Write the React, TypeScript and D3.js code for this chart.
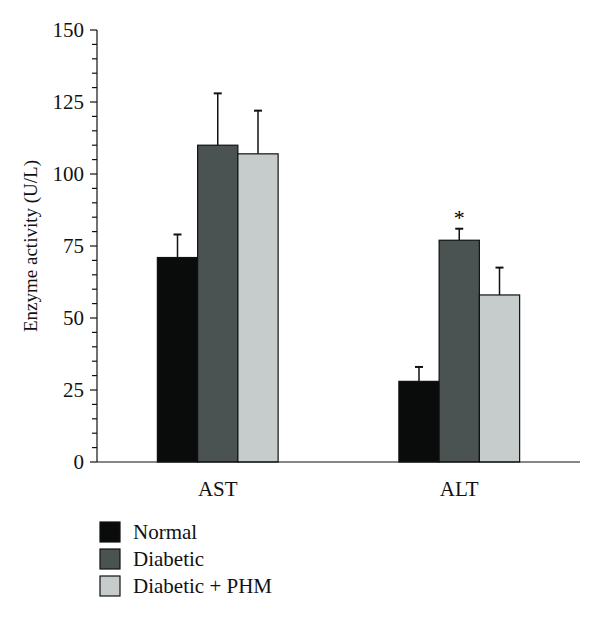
import { useEffect, useRef } from "react";
import * as d3 from "d3";

const enzymes = ["AST", "ALT"];
const groups = ["Normal", "Diabetic", "Diabetic + PHM"];
const colors = ["#0a0c0b", "#4a5352", "#c5cccb"];
const means = [
  [71, 110, 107],
  [28, 77, 58],
];
const errors = [
  [8, 18, 15],
  [5, 4, 9.5],
];
const marks = [
  ["", "", ""],
  ["", "*", ""],
];
const yTicks = [0, 25, 50, 75, 100, 125, 150];

export default function App() {
  const svgRef = useRef<SVGSVGElement | null>(null);

  useEffect(() => {
    if (!svgRef.current) return;
    document.body.style.margin = "0";
    const width = 600;
    const height = 621;
    const font = "'Liberation Serif', 'DejaVu Serif', serif";

    const svg = d3.select(svgRef.current);
    svg.selectAll("*").remove();
    svg.attr("width", width).attr("height", height).style("display", "block");

    const left = 97;
    const right = 580;
    const top = 30;
    const bottom = 462;

    const y = d3.scaleLinear().domain([0, 150]).range([bottom, top]);
    const x0 = d3.scaleBand<string>().domain(enzymes).range([left, right]).paddingInner(0.5).paddingOuter(0.25);
    const x1 = d3.scaleBand<string>().domain(groups).range([0, x0.bandwidth()]);

    // bars
    enzymes.forEach((e, i) => {
      const g = svg.append("g").attr("transform", `translate(${x0(e)},0)`);
      groups.forEach((grp, j) => {
        const bx = x1(grp)!;
        const cx = bx + x1.bandwidth() / 2;
        const v = means[i][j];
        const top = y(v + errors[i][j]);
        g.append("line")
          .attr("x1", cx).attr("x2", cx)
          .attr("y1", y(v)).attr("y2", top)
          .attr("stroke", "#111").attr("stroke-width", 1.5);
        g.append("line")
          .attr("x1", cx - 4).attr("x2", cx + 4)
          .attr("y1", top).attr("y2", top)
          .attr("stroke", "#111").attr("stroke-width", 2);
        g.append("rect")
          .attr("x", bx).attr("y", y(v))
          .attr("width", x1.bandwidth()).attr("height", bottom - y(v))
          .attr("fill", colors[j]).attr("stroke", "#111").attr("stroke-width", 1.2);
        if (marks[i][j]) {
          g.append("text")
            .attr("x", cx).attr("y", top - 4)
            .attr("text-anchor", "middle")
            .attr("font-family", font).attr("font-size", 22)
            .text(marks[i][j]);
        }
      });
    });

    // y axis
    const yAxis = svg.append("g").attr("transform", `translate(${left},0)`);
    yAxis.append("line").attr("x1", 0).attr("x2", 0).attr("y1", top).attr("y2", bottom).attr("stroke", "#111").attr("stroke-width", 1.2);
    d3.range(0, 151, 5).forEach(t => {
      const major = t % 25 === 0;
      yAxis.append("line")
        .attr("x1", major ? -7 : -5).attr("x2", 0)
        .attr("y1", y(t)).attr("y2", y(t))
        .attr("stroke", "#111").attr("stroke-width", 1.2);
    });
    yTicks.forEach(t => {
      yAxis.append("text")
        .attr("x", -13).attr("y", y(t)).attr("dy", "0.35em")
        .attr("text-anchor", "end")
        .attr("font-family", font).attr("font-size", 21).attr("fill", "#111")
        .text(t);
    });
    svg.append("text")
      .attr("transform", `translate(37,${(top + bottom) / 2}) rotate(-90)`)
      .attr("text-anchor", "middle")
      .attr("font-family", font).attr("font-size", 19).attr("fill", "#111")
      .text("Enzyme activity (U/L)");

    // x axis
    svg.append("line").attr("x1", left).attr("x2", right).attr("y1", bottom).attr("y2", bottom).attr("stroke", "#111").attr("stroke-width", 1.2);
    enzymes.forEach(e => {
      svg.append("text")
        .attr("x", x0(e)! + x0.bandwidth() / 2).attr("y", 496)
        .attr("text-anchor", "middle")
        .attr("font-family", font).attr("font-size", 21).attr("fill", "#111")
        .text(e);
    });

    // legend
    groups.forEach((grp, j) => {
      const ly = 522 + j * 27;
      svg.append("rect")
        .attr("x", 100).attr("y", ly).attr("width", 20).attr("height", 20)
        .attr("fill", colors[j]).attr("stroke", "#111").attr("stroke-width", 1.2);
      svg.append("text")
        .attr("x", 133).attr("y", ly + 10).attr("dy", "0.35em")
        .attr("font-family", font).attr("font-size", 21).attr("fill", "#111")
        .text(grp);
    });
  }, []);

  return <svg ref={svgRef} />;
}
